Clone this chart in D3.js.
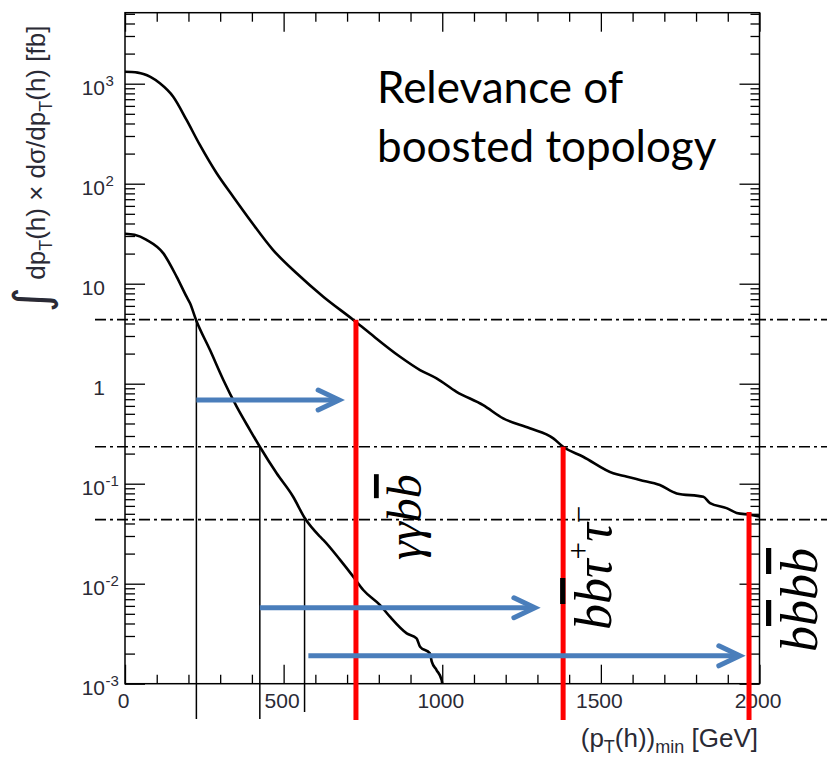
<!DOCTYPE html>
<html>
<head>
<meta charset="utf-8">
<script src="https://cdn.jsdelivr.net/npm/d3@7"></script>
<style>
  body { margin: 0; background: #ffffff; }
  svg { display: block; }
</style>
</head>
<body>
<svg id="chart" width="827" height="757"></svg>
<script>
// Integrated cross section above a pT(h) cut, upper curve (fb)
const ptUpper = [0, 20, 40, 58, 80, 110, 152, 194, 236, 289, 341, 394, 467, 541, 625, 720, 772, 867, 930, 982, 1045, 1129, 1192, 1276, 1350, 1381, 1444, 1539, 1580, 1623, 1686, 1739, 1823, 1844, 1896, 1928, 1970, 2000];
const xsUpper = [1318, 1310, 1290, 1250, 1170, 1009, 741, 434, 244, 127, 74.1, 43.4, 21.7, 12.7, 7.41, 4.34, 3.19, 1.86, 1.37, 1.13, 0.83, 0.61, 0.45, 0.358, 0.284, 0.234, 0.186, 0.127, 0.118, 0.109, 0.097, 0.080, 0.074, 0.064, 0.057, 0.051, 0.049, 0.047];

// Integrated cross section above a pT(h) cut, lower curve (fb)
const ptLower = [0, 30, 68, 121, 163, 194, 205, 224, 268, 310, 352, 394, 425, 478, 530, 567, 615, 625, 678, 720, 751, 804, 835, 888, 919, 930, 961, 967, 982, 998, 1000];
const xsLower = [31.6, 30.8, 27.4, 20.1, 11.7, 7.41, 6.37, 4.34, 2.17, 1.09, 0.589, 0.344, 0.234, 0.127, 0.0741, 0.0451, 0.0295, 0.0274, 0.0173, 0.0117, 0.00865, 0.00612, 0.00468, 0.00319, 0.00284, 0.00234, 0.00201, 0.00166, 0.00137, 0.00109, 0.001];

// Axis ticks
const xTickMajor = [0, 500, 1000, 1500, 2000];
const xTickLabels = ["0", "500", "1000", "1500", "2000"];
const yTickMajor = [1e-3, 1e-2, 1e-1, 1, 10, 100, 1000];
const yTickBase = ["10", "10", "10", "1", "10", "10", "10"];
const yTickExp = ["-3", "-2", "-1", "", "", "2", "3"];

// Signal thresholds per channel (fb) and the pT cuts where the curves cross them
const channelNames = ["γγbb̄", "bb̄τ+τ−", "bb̄bb̄"];
const thresholds = [4.37, 0.234, 0.0437];
const lowPt = [225, 425, 566];
const highPt = [728, 1381, 1967];
const highTop = [4.37, 0.234, 0.052];
const arrowFrom = [225, 425, 578];
const arrowTo = [675, 1292, 1938];
const arrowLevel = [0.687, 0.00575, 0.0019];

const svg = d3.select("#chart");
const plotL = 125, plotR = 759.5, plotT = 12.7, plotB = 683.7;

const x = d3.scaleLinear().domain([0, 2000]).range([plotL, plotR]);
const y = d3.scaleLog().domain([1e-3, Math.pow(10, 3.71)]).range([plotB, plotT]);

// minor tick values
const xMinor = d3.range(0, 2001, 100).filter(v => v % 500 !== 0);
const yMinor = [];
for (let e = -3; e <= 3; e++) {
  for (let m = 2; m <= 9; m++) {
    const v = m * Math.pow(10, e);
    if (v <= y.domain()[1]) yMinor.push(v);
  }
}

function tickAxis(axisFn, scale, values, size, tx, ty) {
  const g = svg.append("g")
    .attr("transform", `translate(${tx},${ty})`)
    .call(axisFn(scale).tickValues(values).tickSizeInner(-size).tickSizeOuter(0).tickFormat(""));
  g.select(".domain").remove();
  g.selectAll(".tick line").attr("stroke", "#000").attr("stroke-width", 1.3);
  return g;
}

tickAxis(d3.axisBottom, x, xTickMajor, 19, 0, plotB);
tickAxis(d3.axisBottom, x, xMinor, 9, 0, plotB);
tickAxis(d3.axisTop, x, xTickMajor, 19, 0, plotT);
tickAxis(d3.axisTop, x, xMinor, 9, 0, plotT);
tickAxis(d3.axisLeft, y, yTickMajor, 20, plotL, 0);
tickAxis(d3.axisLeft, y, yMinor, 10, plotL, 0);
tickAxis(d3.axisRight, y, yTickMajor, 20, plotR, 0);
tickAxis(d3.axisRight, y, yMinor, 9, plotR, 0);

// frame
svg.append("rect")
  .attr("x", plotL).attr("y", plotT)
  .attr("width", plotR - plotL).attr("height", plotB - plotT)
  .attr("fill", "none").attr("stroke", "#000").attr("stroke-width", 1.5);

// tick labels
const labelFont = "'Liberation Sans', Arial, sans-serif";
const labelColor = "#2a2a35";
svg.append("g").selectAll("text")
  .data(xTickMajor)
  .join("text")
  .attr("x", d => x(d) - 1.5)
  .attr("y", 708)
  .attr("text-anchor", "middle")
  .attr("font-family", labelFont)
  .attr("font-size", 21)
  .attr("fill", labelColor)
  .text((d, i) => xTickLabels[i]);

const yl = svg.append("g");
yTickMajor.forEach((v, i) => {
  yl.append("text")
    .attr("x", 105).attr("y", y(v) + 11)
    .attr("text-anchor", "end")
    .attr("font-family", labelFont).attr("font-size", 21).attr("fill", labelColor)
    .text(yTickBase[i]);
  if (yTickExp[i]) {
    yl.append("text")
      .attr("x", 105.5).attr("y", y(v) + 2)
      .attr("text-anchor", "start")
      .attr("font-family", labelFont).attr("font-size", 15).attr("fill", labelColor)
      .text(yTickExp[i]);
  }
});

// axis titles
const xt = svg.append("text")
  .attr("x", 758).attr("y", 747)
  .attr("text-anchor", "end")
  .attr("font-family", labelFont).attr("font-size", 26).attr("fill", labelColor);
xt.append("tspan").text("(p");
xt.append("tspan").attr("font-size", 18).attr("dy", 6).text("T");
xt.append("tspan").attr("dy", -6).text("(h))");
xt.append("tspan").attr("font-size", 18).attr("dy", 6).text("min");
xt.append("tspan").attr("dy", -6).text(" [GeV]");

const yt = svg.append("text")
  .attr("transform", "translate(45,312) rotate(-90)")
  .attr("text-anchor", "start")
  .attr("font-family", labelFont).attr("font-size", 26).attr("fill", labelColor);
yt.append("tspan").attr("font-size", 48).attr("font-family", "'DejaVu Sans', sans-serif").attr("dy", 3).text("∫");
yt.append("tspan").attr("dy", -3).text(" dp");
yt.append("tspan").attr("font-size", 18).attr("dy", 7).text("T");
yt.append("tspan").attr("dy", -7).text("(h) × dσ/dp");
yt.append("tspan").attr("font-size", 18).attr("dy", 7).text("T");
yt.append("tspan").attr("dy", -7).text("(h) [fb]");

// dash-dot threshold levels
svg.append("g").selectAll("line")
  .data(thresholds)
  .join("line")
  .attr("x1", 95).attr("x2", 827)
  .attr("y1", d => y(d)).attr("y2", d => y(d))
  .attr("stroke", "#000").attr("stroke-width", 1.6)
  .attr("stroke-dasharray", "11,4,3,4");

// thin black cuts on the lower curve
svg.append("g").selectAll("line")
  .data(lowPt)
  .join("line")
  .attr("x1", d => x(d)).attr("x2", d => x(d))
  .attr("y1", (d, i) => y(thresholds[i]))
  .attr("y2", (d, i) => i === 2 ? 712 : 719)
  .attr("stroke", "#000").attr("stroke-width", 1.5);

// curves
const line = d3.line().x(d => x(d[0])).y(d => y(d[1])).curve(d3.curveMonotoneX);
svg.append("path")
  .datum(ptUpper.map((p, i) => [p, xsUpper[i]]))
  .attr("d", line)
  .attr("fill", "none").attr("stroke", "#000").attr("stroke-width", 2.6);
svg.append("path")
  .datum(ptLower.map((p, i) => [p, xsLower[i]]))
  .attr("d", line)
  .attr("fill", "none").attr("stroke", "#000").attr("stroke-width", 2.6);

// red cuts on the upper curve
svg.append("g").selectAll("line")
  .data(highPt)
  .join("line")
  .attr("x1", d => x(d)).attr("x2", d => x(d))
  .attr("y1", (d, i) => y(highTop[i]))
  .attr("y2", 720)
  .attr("stroke", "#ff0000").attr("stroke-width", 5);

// blue arrows showing the shift of the cut
const blue = "#4a7ebb";
const arrows = svg.append("g");
arrowFrom.forEach((p, i) => {
  const x0 = x(p), x1 = x(arrowTo[i]), yy = y(arrowLevel[i]);
  arrows.append("line")
    .attr("x1", x0).attr("x2", x1 - 2)
    .attr("y1", yy).attr("y2", yy)
    .attr("stroke", blue).attr("stroke-width", 5);
  arrows.append("polyline")
    .attr("points", `${x1 - 21},${yy - 10} ${x1},${yy} ${x1 - 21},${yy + 10}`)
    .attr("fill", "none").attr("stroke", blue).attr("stroke-width", 5)
    .attr("stroke-linecap", "round").attr("stroke-linejoin", "miter");
});

// channel labels, rotated along the red cuts
const mathFont = "'Liberation Serif', 'Times New Roman', serif";
const labelPos = [
  { dx: 65, y: 560, size: 48 },
  { dx: 48, y: 630, size: 52 },
  { dx: 68, y: 652, size: 52 }
];
function bar(t, s) {
  t.append("tspan")
    .attr("text-decoration", "overline")
    .style("text-decoration-thickness", "3px")
    .text(s);
}
channelNames.forEach((name, i) => {
  const p = labelPos[i];
  const t = svg.append("text")
    .attr("transform", `translate(${x(highPt[i]) + p.dx},${p.y}) rotate(-90)`)
    .attr("font-family", mathFont).attr("font-style", "italic")
    .attr("font-size", p.size).attr("fill", "#000");
  if (i === 0) {
    t.append("tspan").text("γγb");
    bar(t, "b");
  } else if (i === 1) {
    t.append("tspan").text("b");
    bar(t, "b");
    t.append("tspan").text("τ");
    t.append("tspan").attr("font-size", p.size * 0.6).attr("dy", -p.size * 0.42).attr("font-style", "normal").text("+");
    t.append("tspan").attr("dy", p.size * 0.42).text("τ");
    t.append("tspan").attr("font-size", p.size * 0.6).attr("dy", -p.size * 0.42).attr("font-style", "normal").text("−");
  } else {
    t.append("tspan").text("b");
    bar(t, "b");
    t.append("tspan").text("b");
    bar(t, "b");
  }
});

// annotation
const note = svg.append("text")
  .attr("font-family", "Lato, 'Open Sans', sans-serif")
  .attr("font-size", 44).attr("fill", "#000");
note.append("tspan").attr("x", 377).attr("y", 103).text("Relevance of");
note.append("tspan").attr("x", 377).attr("y", 162).text("boosted topology");
</script>
</body>
</html>
